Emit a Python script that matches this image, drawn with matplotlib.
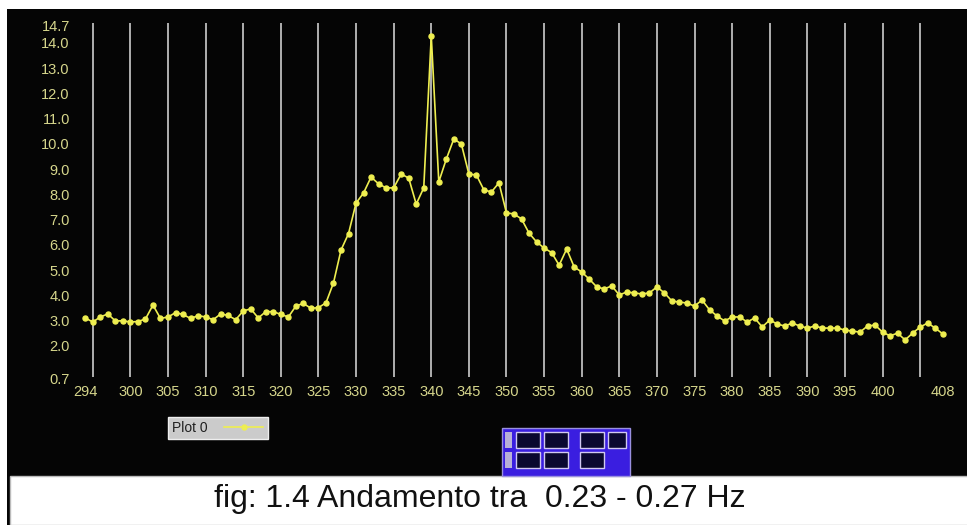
import matplotlib.pyplot as plt
import numpy as np
from matplotlib.patches import Rectangle

# data
freq = np.arange(294, 409)
ampl = [3.11, 2.95, 3.15, 3.27, 2.99, 3.00, 2.95, 2.97, 3.07, 3.62,
        3.09, 3.15, 3.32, 3.25, 3.09, 3.20, 3.15, 3.04, 3.27, 3.21,
        3.04, 3.39, 3.47, 3.11, 3.36, 3.36, 3.25, 3.15, 3.58, 3.69,
        3.49, 3.52, 3.71, 4.50, 5.80, 6.45, 7.66, 8.06, 8.69, 8.42,
        8.26, 8.26, 8.81, 8.65, 7.62, 8.26, 14.28, 8.50, 9.40, 10.20,
        10.00, 8.81, 8.77, 8.18, 8.10, 8.46, 7.27, 7.23, 7.03, 6.47,
        6.12, 5.88, 5.70, 5.20, 5.84, 5.13, 4.93, 4.65, 4.34, 4.26,
        4.38, 4.02, 4.14, 4.10, 4.06, 4.10, 4.34, 4.10, 3.78, 3.74,
        3.70, 3.58, 3.82, 3.43, 3.19, 2.99, 3.15, 3.15, 2.95, 3.11,
        2.75, 3.03, 2.87, 2.79, 2.91, 2.79, 2.71, 2.79, 2.71, 2.71,
        2.71, 2.63, 2.59, 2.55, 2.79, 2.83, 2.55, 2.40, 2.51, 2.24,
        2.51, 2.75, 2.91, 2.71, 2.48]
xticks = [294] + list(range(300, 401, 5)) + [408]
yticks = [0.7] + list(np.arange(2.0, 14.1, 1.0)) + [14.7]
ytick_labels = ['0.7'] + ['%.1f' % v for v in np.arange(2.0, 14.1, 1.0)] + ['14.7']
grid_x = np.arange(295, 406, 5)
caption = 'fig: 1.4 Andamento tra  0.23 - 0.27 Hz'

W, H = 967, 525
fig = plt.figure(figsize=(W / 100, H / 100), dpi=100, facecolor='white')

def fx(px):
    return px / W

def fy(py):
    return 1 - py / H

# black panel + white caption strip
fig.patches.append(Rectangle((fx(7), 0), 1, fy(9), transform=fig.transFigure,
                             facecolor='#050505', edgecolor='none', zorder=-2))
fig.patches.append(Rectangle((fx(10), 0), 1, fy(476), transform=fig.transFigure,
                             facecolor='white', edgecolor='#bbbbbb', lw=1, zorder=-1))

tick_col = '#d6d68c'
fonts = ['Liberation Sans', 'DejaVu Sans']

ax = fig.add_axes([fx(74), fy(381), fx(954) - fx(74), fy(23) - fy(381)])
ax.set_zorder(1)
ax.patch.set_visible(False)
ax.set_xlim(292.5, 409.5)
ax.set_ylim(0.614, 14.79)
for s in ax.spines.values():
    s.set_visible(False)

ax.vlines(grid_x, 0.77, 14.79, color='#bdbdbd', lw=1.3, zorder=1)
ax.plot(freq, ampl, color='#eeee50', lw=1.2, marker='o', ms=3.6,
        mec='#eeee50', mfc='#eeee50', zorder=3, label='Plot 0')

ax.set_xticks(xticks)
ax.set_xticklabels([str(v) for v in xticks], family=fonts)
ax.set_yticks(yticks)
ax.set_yticklabels(ytick_labels, family=fonts)
ax.tick_params(axis='both', length=0, colors=tick_col, labelsize=10.5)
ax.tick_params(axis='x', pad=3)
ax.tick_params(axis='y', pad=3)

leg = ax.legend(loc='upper left', bbox_to_anchor=(fx(168), fy(417)),
                bbox_transform=fig.transFigure, markerfirst=False,
                facecolor='#cbcbcb', edgecolor='#eeeeee', framealpha=1,
                fancybox=False, handlelength=2.8, handletextpad=1.2,
                borderpad=0.3, borderaxespad=0,
                prop={'family': fonts, 'size': 10})
for t in leg.get_texts():
    t.set_color('#202020')

# blue widget
fig.patches.append(Rectangle((fx(502), fy(476)), fx(630) - fx(502), fy(428) - fy(476),
                             transform=fig.transFigure, facecolor='#3a1ee0',
                             edgecolor='#9a90e0', lw=1, zorder=2))
for row, top in enumerate([432, 452]):
    for left, width in [(516, 24), (544, 24), (580, 24), (608, 18)]:
        if row == 1 and left == 608:
            continue
        fig.patches.append(Rectangle((fx(left), fy(top + 16)), fx(width), fy(top) - fy(top + 16),
                                     transform=fig.transFigure, facecolor='#0a0830',
                                     edgecolor='#d0c8f0', lw=1, zorder=3))
    fig.patches.append(Rectangle((fx(505), fy(top + 16)), fx(7), fy(top) - fy(top + 16),
                                 transform=fig.transFigure, facecolor='#b8b0d8',
                                 edgecolor='none', zorder=3))

fig.text(fx(480), fy(499), caption, ha='center', va='center', fontsize=23,
         family=fonts, color='#111111')

fig.savefig('out.png', dpi=100, facecolor='white')
